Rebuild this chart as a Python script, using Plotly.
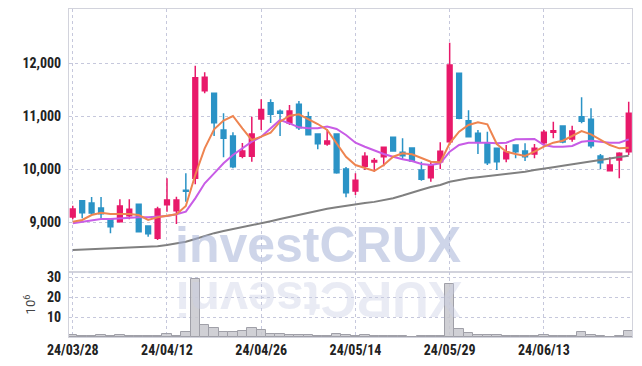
import plotly.graph_objects as go

dates = ["24/03/28","24/03/29","24/04/01","24/04/02","24/04/03","24/04/04","24/04/05","24/04/08","24/04/09","24/04/11",
         "24/04/12","24/04/15","24/04/16","24/04/17","24/04/18","24/04/19","24/04/22","24/04/23","24/04/24","24/04/25",
         "24/04/26","24/04/29","24/04/30","24/05/02","24/05/03","24/05/07","24/05/08","24/05/09","24/05/10","24/05/13",
         "24/05/14","24/05/16","24/05/17","24/05/20","24/05/21","24/05/22","24/05/23","24/05/24","24/05/27","24/05/28",
         "24/05/29","24/05/30","24/05/31","24/06/03","24/06/04","24/06/05","24/06/07","24/06/10","24/06/11","24/06/12",
         "24/06/13","24/06/14","24/06/17","24/06/18","24/06/19","24/06/20","24/06/21","24/06/24","24/06/25","24/06/26"]

open_ = [9094,9402,9358,9264,9050,9006,9119,9334,8925,8692,
         9327,9214,9600,9824,11478,11428,10736,10623,10239,10239,
         10943,11250,11088,10868,11220,10987,10660,10472,10660,10000,
         9585,10051,10132,10233,10597,10315,10396,9981,9836,10138,
         10515,11805,10911,10674,10485,10390,10195,10453,10340,10283,
         10497,10692,10811,10566,10987,10937,10245,9968,10170,10327]
high = [9308,9415,9472,9472,9070,9428,9428,9334,8925,9289,
        9824,9478,9918,11949,11825,11428,11051,10692,10491,10987,
        11315,11315,11125,11208,11283,11081,10660,10755,10660,10038,
        9918,10315,10208,10420,10597,10579,10409,10138,10138,10504,
        12383,11805,11107,10736,10704,10400,10453,10453,10485,10472,
        10736,10893,10811,10817,11352,11145,10283,10220,10315,11270]
low = [9050,9070,9132,9070,8787,9006,9050,8817,8723,8660,
       9195,8962,9384,9711,11428,10623,10221,10013,10202,10138,
       10736,10868,10623,10830,10736,10640,10372,10440,9910,9466,
       9509,9981,9950,10051,10340,10170,10138,9779,9760,10000,
       10453,10940,10600,10283,10075,9981,10126,10202,10151,10202,
       10453,10579,10485,10515,10862,10390,9994,9968,9824,10264]
close = [9245,9175,9170,9157,8912,9302,9239,8817,8780,9245,
         9415,9415,9580,11723,11730,10874,10579,10044,10340,10660,
         11125,11031,11050,11094,10780,10648,10478,10528,9930,9553,
         9786,10240,10160,10409,10340,10251,10151,9805,10075,10333,
         11962,10956,10610,10504,10119,10138,10321,10327,10233,10390,
         10692,10723,10509,10717,10899,10440,10119,10075,10296,11050]

ma_short = [9006,9038,9132,9175,9151,9151,9151,9132,9038,9089,
            9119,9145,9302,9887,10390,10750,10915,11000,10768,10547,
            10610,10685,10893,11006,11032,10943,10849,10736,10485,10232,
            10075,10025,9962,10075,10232,10296,10277,10208,10138,10126,
            10485,10704,10830,10880,10843,10472,10327,10283,10245,10327,
            10421,10497,10534,10623,10717,10654,10547,10453,10390,10402]
ma_mid = [8975,9006,9038,9057,9057,9070,9082,9089,9089,9101,
          9113,9145,9195,9447,9730,9918,10107,10264,10390,10515,
          10610,10768,10925,10862,10787,10768,10768,10800,10755,10642,
          10497,10421,10346,10283,10232,10183,10151,10094,10075,10107,
          10327,10453,10497,10504,10497,10485,10497,10560,10566,10566,
          10453,10421,10421,10434,10515,10534,10515,10497,10497,10560]
ma_long = [8472,8480,8490,8495,8500,8505,8510,8520,8530,8545,
           8566,8590,8628,8680,8740,8790,8830,8865,8900,8940,
           8975,9015,9055,9095,9132,9170,9210,9250,9280,9310,
           9340,9360,9380,9410,9450,9500,9560,9610,9660,9700,
           9760,9795,9824,9845,9865,9880,9900,9925,9950,9980,
           10013,10035,10060,10090,10115,10140,10170,10200,10225,10250]

volume_m = [0.8,0.3,0.3,0.8,0.3,0.8,0.3,0.3,0.3,0.3,
            1.3,0.3,2.5,29.2,6.2,4.5,2.5,2.5,3.2,4.5,
            3.7,1.5,1.5,1.2,1.0,1.0,0.3,0.3,1.5,1.2,
            0.3,0.8,0.3,0.3,0.3,0.3,0.1,0.3,0.3,0.4,
            26.5,4.0,2.0,1.0,1.0,1.0,0.3,0.3,0.3,0.3,
            1.0,0.5,0.3,0.3,2.5,1.0,0.3,0.1,0.3,2.8]

tick_dates = ["24/03/28","24/04/12","24/04/26","24/05/14","24/05/29","24/06/13"]
price_ticks = [9000, 10000, 11000, 12000]
vol_ticks = [10, 20, 30]

RED = "#e8196a"
BLUE = "#2b93c6"
GRID = "#c6c8dc"
AXLINE = "#d2d3dc"
TICKFONT = dict(family="Roboto Condensed, Roboto, sans-serif",
                size=14, color="#222222", weight="bold")

fig = go.Figure()
fig.add_trace(go.Candlestick(
    x=dates, open=open_, high=high, low=low, close=close,
    increasing=dict(line=dict(color=RED, width=1.5), fillcolor=RED),
    decreasing=dict(line=dict(color=BLUE, width=1.5), fillcolor=BLUE),
    xaxis="x", yaxis="y", showlegend=False, hoverinfo="skip"))
fig.add_trace(go.Scatter(x=dates, y=ma_long, mode="lines",
                         line=dict(color="#808080", width=2), xaxis="x", yaxis="y", showlegend=False))
fig.add_trace(go.Scatter(x=dates, y=ma_mid, mode="lines",
                         line=dict(color="#c85ce6", width=2), xaxis="x", yaxis="y", showlegend=False))
fig.add_trace(go.Scatter(x=dates, y=ma_short, mode="lines",
                         line=dict(color="#ee8450", width=2), xaxis="x", yaxis="y", showlegend=False))
fig.add_trace(go.Bar(x=dates, y=volume_m, xaxis="x2", yaxis="y2",
                     marker=dict(color="rgba(200,200,206,0.85)",
                                 line=dict(color="rgba(160,160,168,1)", width=1)),
                     showlegend=False))

xr = [-0.4, 59.35]
vdom = 65 / 328

common_x = dict(type="category", range=xr, tickmode="array", tickvals=tick_dates,
                showgrid=True, gridcolor=GRID, griddash="dot", gridwidth=1,
                showline=True, linecolor=AXLINE, linewidth=1, mirror=True,
                zeroline=False, ticks="", rangeslider=dict(visible=False), automargin=False)

fig.update_layout(
    width=642, height=366,
    margin=dict(l=69, r=10, t=9, b=29),
    paper_bgcolor="white", plot_bgcolor="white",
    bargap=0, boxgap=0.28,
    xaxis=dict(**common_x, domain=[0, 1], anchor="y", showticklabels=False),
    xaxis2=dict(**common_x, domain=[0, 1], anchor="y2", matches="x",
                showticklabels=True, tickfont=TICKFONT),
    yaxis=dict(domain=[vdom, 1], range=[8057, 13019], tickmode="array", tickvals=price_ticks,
               tickformat=",", showgrid=True, gridcolor=GRID, griddash="dot",
               showline=True, linecolor=AXLINE, mirror=True, zeroline=False, automargin=False,
               tickfont=TICKFONT, ticks="", ticklabelstandoff=4),
    yaxis2=dict(domain=[0, vdom], range=[0, 32.5], tickmode="array", tickvals=vol_ticks,
                showgrid=True, gridcolor=GRID, griddash="dot",
                showline=True, linecolor=AXLINE, mirror=True, zeroline=False, automargin=False,
                tickfont=TICKFONT, ticks="", ticklabelstandoff=4,
                title=dict(text="10<sup>6</sup>", font=dict(family="Roboto, sans-serif", size=13, color="#444"),
                           standoff=8)),
    annotations=[
        dict(text="<b>investCRUX</b>", xref="paper", yref="paper", x=0.443, y=vdom,
             xanchor="center", yanchor="bottom", showarrow=False, yshift=-3,
             font=dict(family="Liberation Sans, Arial, sans-serif", size=50, color="rgba(165,178,215,0.55)")),
        dict(text="<b>XURCtsevni</b>", xref="paper", yref="paper", x=0.443, y=vdom,
             xanchor="center", yanchor="top", showarrow=False, textangle=180, yshift=3,
             font=dict(family="Liberation Sans, Arial, sans-serif", size=50, color="rgba(200,206,228,0.40)")),
    ],
)

fig.write_html("out.html", post_script="document.body.style.margin='0';",
               config={"displayModeBar": False})
